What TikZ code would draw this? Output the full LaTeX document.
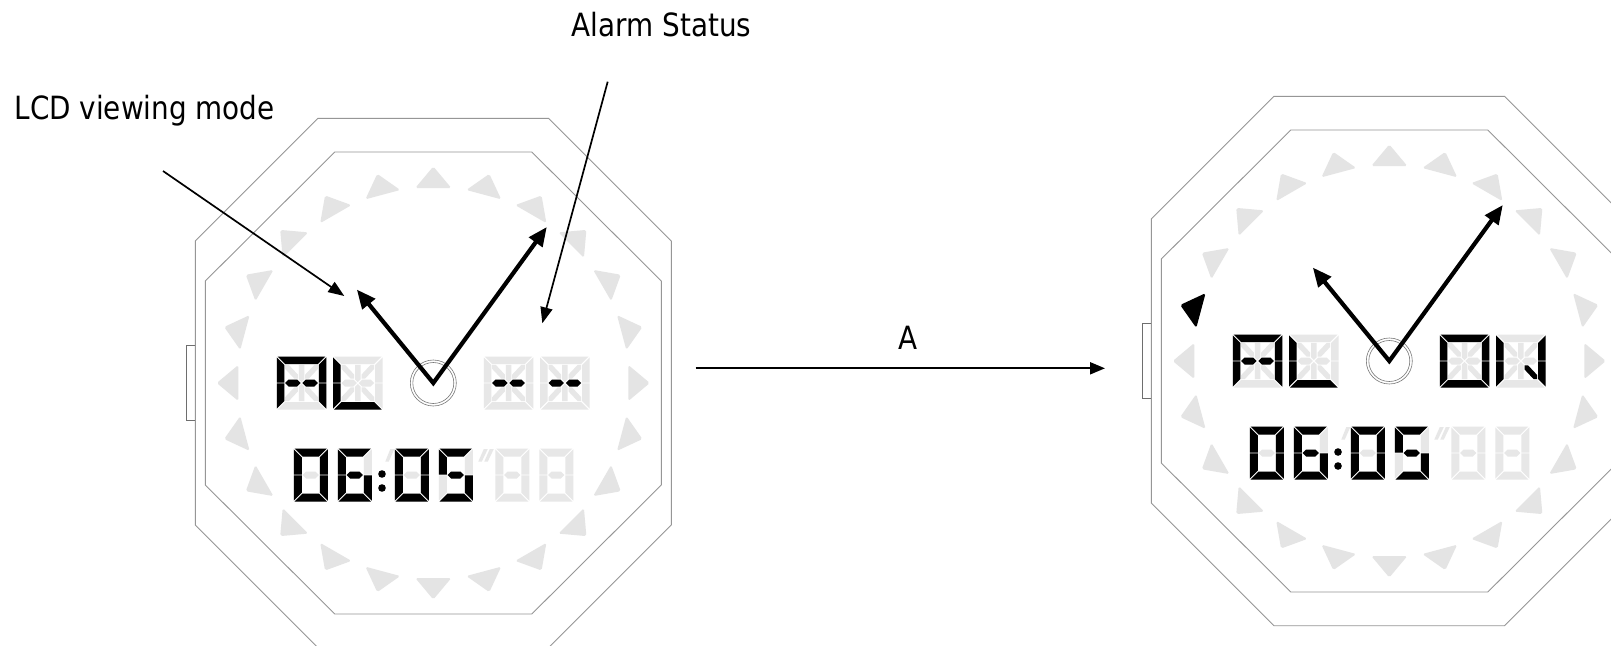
\documentclass[tikz,border=0pt]{standalone}
\usepackage{fontspec}
\setmainfont{DejaVu Sans}[FakeStretch=0.87]
\usetikzlibrary{arrows.meta}
\definecolor{lcdoff}{RGB}{231,231,231}
\definecolor{markgray}{RGB}{228,228,228}
\definecolor{rimgray}{RGB}{150,150,150}
\definecolor{btngray}{RGB}{110,110,110}
\definecolor{ringgray}{RGB}{120,120,120}
% 14-segment character (49.5 x 53)
\newcommand\asTop[1]{\fill[#1] (0.9,0) -- (48.6,0) -- (41.1,7.5) -- (8.4,7.5) -- cycle;}
\newcommand\asBot[1]{\fill[#1] (0.9,53) -- (48.6,53) -- (41.1,45.5) -- (8.4,45.5) -- cycle;}
\newcommand\asLU[1]{\fill[#1] (0,0.9) -- (7.5,8.4) -- (7.5,26.05) -- (0,26.05) -- cycle;}
\newcommand\asLL[1]{\fill[#1] (0,52.1) -- (7.5,44.6) -- (7.5,26.95) -- (0,26.95) -- cycle;}
\newcommand\asRU[1]{\fill[#1] (49.5,0.9) -- (42,8.4) -- (42,26.05) -- (49.5,26.05) -- cycle;}
\newcommand\asRL[1]{\fill[#1] (49.5,52.1) -- (42,44.6) -- (42,26.95) -- (49.5,26.95) -- cycle;}
\newcommand\asML[1]{\fill[#1] (8.4,26.5) -- (11.9,23) -- (20.35,23) -- (23.85,26.5) -- (20.35,30) -- (11.9,30) -- cycle;}
\newcommand\asMR[1]{\fill[#1] (41.1,26.5) -- (37.6,23) -- (29.15,23) -- (25.65,26.5) -- (29.15,30) -- (37.6,30) -- cycle;}
\newcommand\asCU[1]{\fill[#1] (24.75,25.6) -- (22,22.85) -- (22,8.4) -- (27.5,8.4) -- (27.5,22.85) -- cycle;}
\newcommand\asCL[1]{\fill[#1] (24.75,27.4) -- (22,30.15) -- (22,44.6) -- (27.5,44.6) -- (27.5,30.15) -- cycle;}
\newcommand\asDUL[1]{\fill[#1] (8.4,8.4) -- (12,8.4) -- (21.1,18.1) -- (21.1,22.1) -- (17.5,22.1) -- (8.4,12.4) -- cycle;}
\newcommand\asDUR[1]{\fill[#1] (41.1,8.4) -- (37.5,8.4) -- (28.4,18.1) -- (28.4,22.1) -- (32,22.1) -- (41.1,12.4) -- cycle;}
\newcommand\asDLL[1]{\fill[#1] (8.4,44.6) -- (12,44.6) -- (21.1,34.9) -- (21.1,30.9) -- (17.5,30.9) -- (8.4,40.6) -- cycle;}
\newcommand\asDLR[1]{\fill[#1] (41.1,44.6) -- (37.5,44.6) -- (28.4,34.9) -- (28.4,30.9) -- (32,30.9) -- (41.1,40.6) -- cycle;}
\newcommand\asnone[1]{}
% 7-segment digit (34 x 53)
\newcommand\dsa[1]{\fill[#1] (0.9,0) -- (33.1,0) -- (25.1,8) -- (8.9,8) -- cycle;}
\newcommand\dsb[1]{\fill[#1] (34,0.9) -- (26,8.9) -- (26,26.05) -- (34,26.05) -- cycle;}
\newcommand\dsc[1]{\fill[#1] (34,52.1) -- (26,44.1) -- (26,26.95) -- (34,26.95) -- cycle;}
\newcommand\dsd[1]{\fill[#1] (0.9,53) -- (33.1,53) -- (25.1,45) -- (8.9,45) -- cycle;}
\newcommand\dse[1]{\fill[#1] (0,52.1) -- (8,44.1) -- (8,26.95) -- (0,26.95) -- cycle;}
\newcommand\dsf[1]{\fill[#1] (0,0.9) -- (8,8.9) -- (8,26.05) -- (0,26.05) -- cycle;}
\newcommand\dsg[1]{\fill[#1] (8.9,26.5) -- (12.4,23) -- (21.6,23) -- (25.1,26.5) -- (21.6,30) -- (12.4,30) -- cycle;}
\newcommand\dsnone[1]{}
\newcommand\lcdalnum[3]{\begin{scope}[shift={(#1,#2)}]
  \foreach \sg in {Top,Bot,LU,LL,RU,RL,ML,MR,CU,CL,DUL,DUR,DLL,DLR}{\csname as\sg\endcsname{lcdoff}}
  \foreach \sg in {#3}{\csname as\sg\endcsname{black}}
\end{scope}}
\newcommand\lcddigit[3]{\begin{scope}[shift={(#1,#2)}]
  \foreach \sg in {a,b,c,d,e,f,g}{\csname ds\sg\endcsname{lcdoff}}
  \foreach \sg in {#3}{\csname ds\sg\endcsname{black}}
\end{scope}}
\newcommand\lcd[6]{\begin{scope}[shift={(#1,#2)}]
  \lcdalnum{-156.5}{-26.5}{#3}
  \lcdalnum{-100.2}{-26.5}{#4}
  \lcdalnum{50.5}{-26.5}{#5}
  \lcdalnum{106.8}{-26.5}{#6}
  \lcddigit{-139.5}{65.5}{a,b,c,d,e,f}
  \lcddigit{-95.5}{65.5}{a,c,d,e,f,g}
  \lcddigit{-38.5}{65.5}{a,b,c,d,e,f}
  \lcddigit{5.5}{65.5}{a,c,d,f,g}
  \lcddigit{62}{65.5}{none}
  \lcddigit{106}{65.5}{none}
  \fill (-51.3,91) circle[radius=3.8pt];
  \fill (-51.3,105) circle[radius=3.8pt];
  \fill[lcdoff] (-43,66) -- (-39,66) -- (-44.5,78.5) -- (-48,78.5) -- cycle;
  \fill[lcdoff] (50.5,66) -- (54.5,66) -- (48.5,78.5) -- (45,78.5) -- cycle;
  \fill[lcdoff] (56.5,66) -- (60.5,66) -- (54.5,78.5) -- (51,78.5) -- cycle;
\end{scope}}
\newcommand\watch[4]{\begin{scope}[shift={(#1,#2)}]
  \coordinate (#3c) at (0,0);
  \coordinate (#3h) at (-76.5,-93.5);
  \coordinate (#3m) at (113.5,-156);
  \draw[rim] (-115.3,-264.7) -- (115.3,-264.7) -- (238,-142) -- (238,142) -- (115.3,264.7) -- (-115.3,264.7) -- (-238,142) -- (-238,-142) -- cycle;
  \draw[rim] (-98.5,-231) -- (98.5,-231) -- (228,-102) -- (228,102) -- (98.5,231) -- (-98.5,231) -- (-228,102) -- (-228,-102) -- cycle;
  \draw[btn] (-238,-37.5) -- (-247.3,-37.5) -- (-247.3,37.5) -- (-238,37.5);
  \foreach \k in {0,...,23}{%
    \ifnum\k=#4 \def\mcol{black}\else\def\mcol{markgray}\fi
    \fill[fill=\mcol, rounded corners=1.8pt, rotate=\k*15] (-18,-195) -- (18,-195) -- (0,-216.5) -- cycle;
  }
  \draw[ring] (#3c) circle[radius=23pt];
  \draw[ring] (#3c) circle[radius=20.5pt];
\end{scope}}
\begin{document}
\begin{tikzpicture}[x=1pt,y=-1pt,
  lbl/.style={font=\fontsize{32}{38}\selectfont, inner sep=0pt},
  ann/.style={line width=1.7pt, -{Triangle[length=16pt,width=12pt]}},
  annA/.style={line width=2pt, -{Triangle[length=15pt,width=12pt]}},
  hand/.style={line width=4.2pt, line join=miter, {Triangle[length=19pt,width=16pt]}-{Triangle[length=19pt,width=16pt]}},
  rim/.style={draw=rimgray, line width=0.9pt},
  btn/.style={draw=btngray, line width=0.9pt},
  ring/.style={draw=ringgray, line width=0.6pt}]
\clip (0,0) rectangle (1611,645);
\fill[white] (0,0) rectangle (1611,645);
% left watch
\watch{433.3}{383}{L}{-1}
\lcd{433.3}{383}{Top,LU,LL,RU,RL,ML,MR}{LU,LL,Bot}{ML,MR}{ML,MR}
\draw[hand] (Lh) -- (Lc) -- (Lm);
% right watch
\watch{1389.3}{361}{R}{5}
\lcd{1389.3}{361}{Top,LU,LL,RU,RL,ML,MR}{LU,LL,Bot}{Top,Bot,LU,LL,RU,RL}{LU,LL,RU,RL,DLR}
\draw[hand] (Rh) -- (Rc) -- (Rm);
% labels and arrows
\node[lbl, anchor=base west] (lcdlabel) at (14.3,119) {LCD viewing mode};
\node[lbl, anchor=base west] (alarmlabel) at (571.5,36.7) {Alarm Status};
\coordinate (lcdfrom) at (163,171);
\coordinate (lcdto) at (344.3,296);
\coordinate (alfrom) at (607.7,81.7);
\coordinate (alto) at (542.3,323.3);
\draw[ann] (lcdfrom) -- (lcdto);
\draw[ann] (alfrom) -- (alto);
\coordinate (Afrom) at (695.7,368.3);
\coordinate (Ato) at (1105,368.3);
\draw[annA] (Afrom) -- (Ato);
\node[lbl, anchor=base] (Alabel) at (907.7,349) {A};
\end{tikzpicture}
\end{document}
